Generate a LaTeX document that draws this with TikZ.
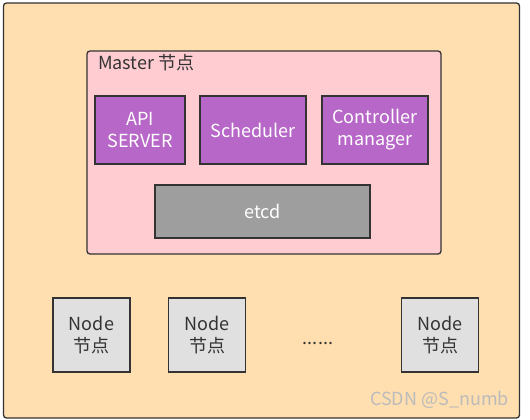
\documentclass[tikz,border=0pt]{standalone}
\usepackage{fontspec}
\setmainfont{Noto Sans CJK SC}
\usetikzlibrary{positioning}
\definecolor{clusterfill}{HTML}{FFDFB0}
\definecolor{masterfill}{HTML}{FFCCD2}
\definecolor{compfill}{HTML}{B767C7}
\definecolor{etcdfill}{HTML}{9E9E9E}
\definecolor{workerfill}{HTML}{E0E0E0}
\definecolor{boxline}{HTML}{333333}
\definecolor{marktext}{HTML}{BBBBBB}

\begin{document}
\begin{tikzpicture}[x=1pt,y=-1pt,
    every node/.style={inner sep=0pt, align=center, font=\fontsize{18}{22}\selectfont},
    cluster/.style={rectangle, draw=boxline, fill=clusterfill, line width=1.3pt, rounded corners=3pt},
    master/.style={rectangle, draw=boxline, fill=masterfill, line width=1.3pt, rounded corners=3pt},
    comp/.style={rectangle, draw=boxline, fill=compfill, line width=1.3pt, text=white},
    store/.style={rectangle, draw=boxline, fill=etcdfill, line width=1.3pt, text=white},
    worker/.style={rectangle, draw=boxline, fill=workerfill, line width=1.3pt, text=boxline,
      minimum width=77pt, minimum height=74pt}]
  \useasboundingbox (0,0) rectangle (530,420);
  \node[cluster, minimum width=516pt, minimum height=415pt] (k8s) at (261.5,210.5) {};
  %
  \node[master, minimum width=354pt, minimum height=203pt] (m) at (264,152.5) {};
  \node[anchor=west, text=boxline] (m_label) at (98,63) {Master 节点};
  %
  \node[comp, minimum width=90pt, minimum height=68pt] (api) at (140,130) {API\\SERVER};
  \node[comp, minimum width=106pt, minimum height=68pt] (sched) at (253,130) {Scheduler};
  \node[comp, minimum width=106pt, minimum height=68pt] (ctrl) at (375,130) {Controller\\manager};
  \node[store, minimum width=215pt, minimum height=53pt] (etcd) at (262.5,211.5) {etcd};
  %
  \node[worker] (n_1) at (91.5,335) {Node\\节点};
  \node[worker] (n_2) at (207,335) {Node\\节点};
  \node[text=boxline] (dots) at (318,343) {......};
  \node[worker] (n_3) at (440,335) {Node\\节点};
  %
  \node[text=marktext, anchor=east] (mark) at (509,400) {CSDN @S\_numb};
\end{tikzpicture}
\end{document}
